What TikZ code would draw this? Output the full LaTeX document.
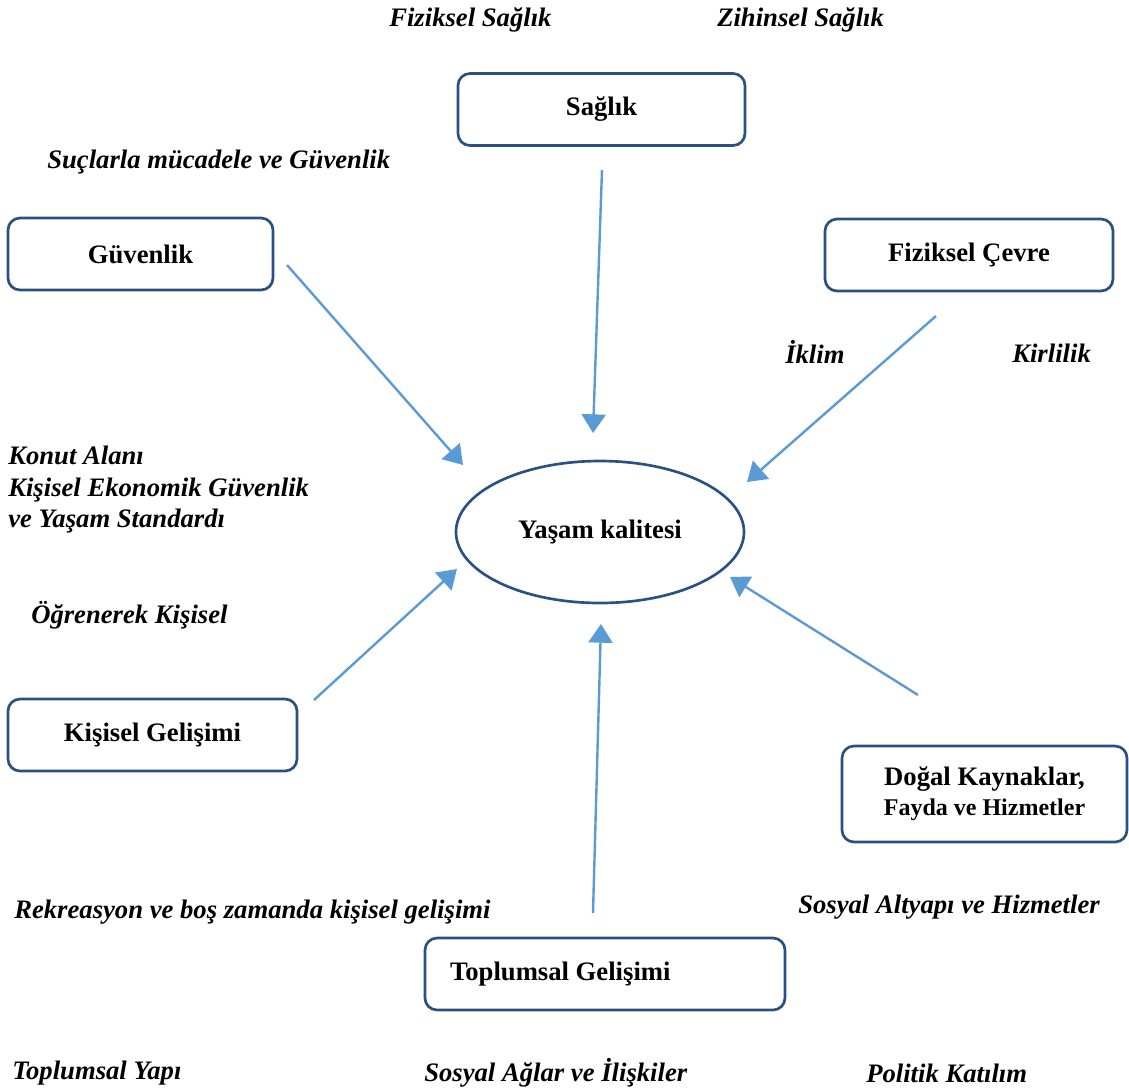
\documentclass[tikz,border=0pt]{standalone}
\usepackage{fontspec}
\setmainfont{Liberation Serif}
\usetikzlibrary{arrows.meta,positioning,shapes.geometric}
\definecolor{qlborder}{RGB}{41,82,130}
\definecolor{qlarrow}{RGB}{91,155,213}

\begin{document}
\begin{tikzpicture}[x=0.75pt,y=-0.75pt,
  kutu/.style={draw=qlborder,line width=2pt,rounded corners=9pt,minimum height=54pt,
    font=\fontsize{20}{22.5}\selectfont\bfseries,align=center},
  etiket/.style={font=\fontsize{20}{23.6}\selectfont\bfseries\itshape,inner sep=0pt},
  ok/.style={-{Triangle[length=14pt,width=18pt]},qlarrow,line width=1.8pt}]
\useasboundingbox (0,0) rectangle (1129,1090);
% Center ellipse
\node[ellipse,draw=qlborder,line width=2pt,minimum width=216pt,minimum height=106.5pt,
  font=\fontsize{20}{22}\selectfont\bfseries] (yasam) at (600,532) {Yaşam kalitesi};
% Boxes
\node[kutu,minimum width=215.25pt] (saglik) at (601.5,109.5) {Sağlık};
\node[kutu,minimum width=198.75pt] (guvenlik) at (140.5,254) {Güvenlik};
\node[kutu,minimum width=216pt] (cevre) at (969,255) {Fiziksel Çevre};
\node[kutu,minimum width=216.75pt] (kisisel) at (152.5,735) {Kişisel Gelişimi};
\node[kutu,minimum width=213.75pt,minimum height=72pt] (dogal) at (984.5,794)
  {Doğal Kaynaklar,\\{\fontsize{18}{22}\selectfont Fayda ve Hizmetler}};
\node[kutu,text width=232.5pt,inner xsep=18.75pt,align=flush left] (toplum) at (605,974) {Toplumsal Gelişimi};
% Arrow ends
\coordinate (s1) at (602,170);  \coordinate (s2) at (593,433);
\coordinate (g1) at (287,265);  \coordinate (g2) at (463,465);
\coordinate (c1) at (936,316);  \coordinate (c2) at (747,482);
\coordinate (k1) at (314,700);  \coordinate (k2) at (457,569);
\coordinate (d1) at (918,695);  \coordinate (d2) at (730,577);
\coordinate (t1) at (593,913);  \coordinate (t2) at (601,624);
\draw[ok] (s1) -- (s2);
\draw[ok] (g1) -- (g2);
\draw[ok] (c1) -- (c2);
\draw[ok] (k1) -- (k2);
\draw[ok] (d1) -- (d2);
\draw[ok] (t1) -- (t2);
% Italic labels
\node[etiket,anchor=west] (fizsag) at (389,20) {Fiziksel Sağlık};
\node[etiket,anchor=west] (zihsag) at (717,20) {Zihinsel Sağlık};
\node[etiket,anchor=west] (suc) at (47,162) {Suçlarla mücadele ve Güvenlik};
\node[etiket,anchor=west] (iklim) at (785,352) {İklim};
\node[etiket,anchor=west] (kirli) at (1012,353) {Kirlilik};
\node[etiket,anchor=north west,align=left] (konut) at (8,446) {Konut Alanı\\Kişisel Ekonomik Güvenlik\\ve Yaşam Standardı};
\node[etiket,anchor=west] (ogren) at (31,615) {Öğrenerek Kişisel};
\node[etiket,anchor=west] (rekre) at (14,912) {Rekreasyon ve boş zamanda kişisel gelişimi};
\node[etiket,anchor=west] (altyapi) at (798,907) {Sosyal Altyapı ve Hizmetler};
\node[etiket,anchor=west] (yapi) at (12,1073) {Toplumsal Yapı};
\node[etiket,anchor=west] (aglar) at (424,1073) {Sosyal Ağlar ve İlişkiler};
\node[etiket,anchor=west] (politik) at (866,1073) {Politik Katılım};
\end{tikzpicture}
\end{document}
